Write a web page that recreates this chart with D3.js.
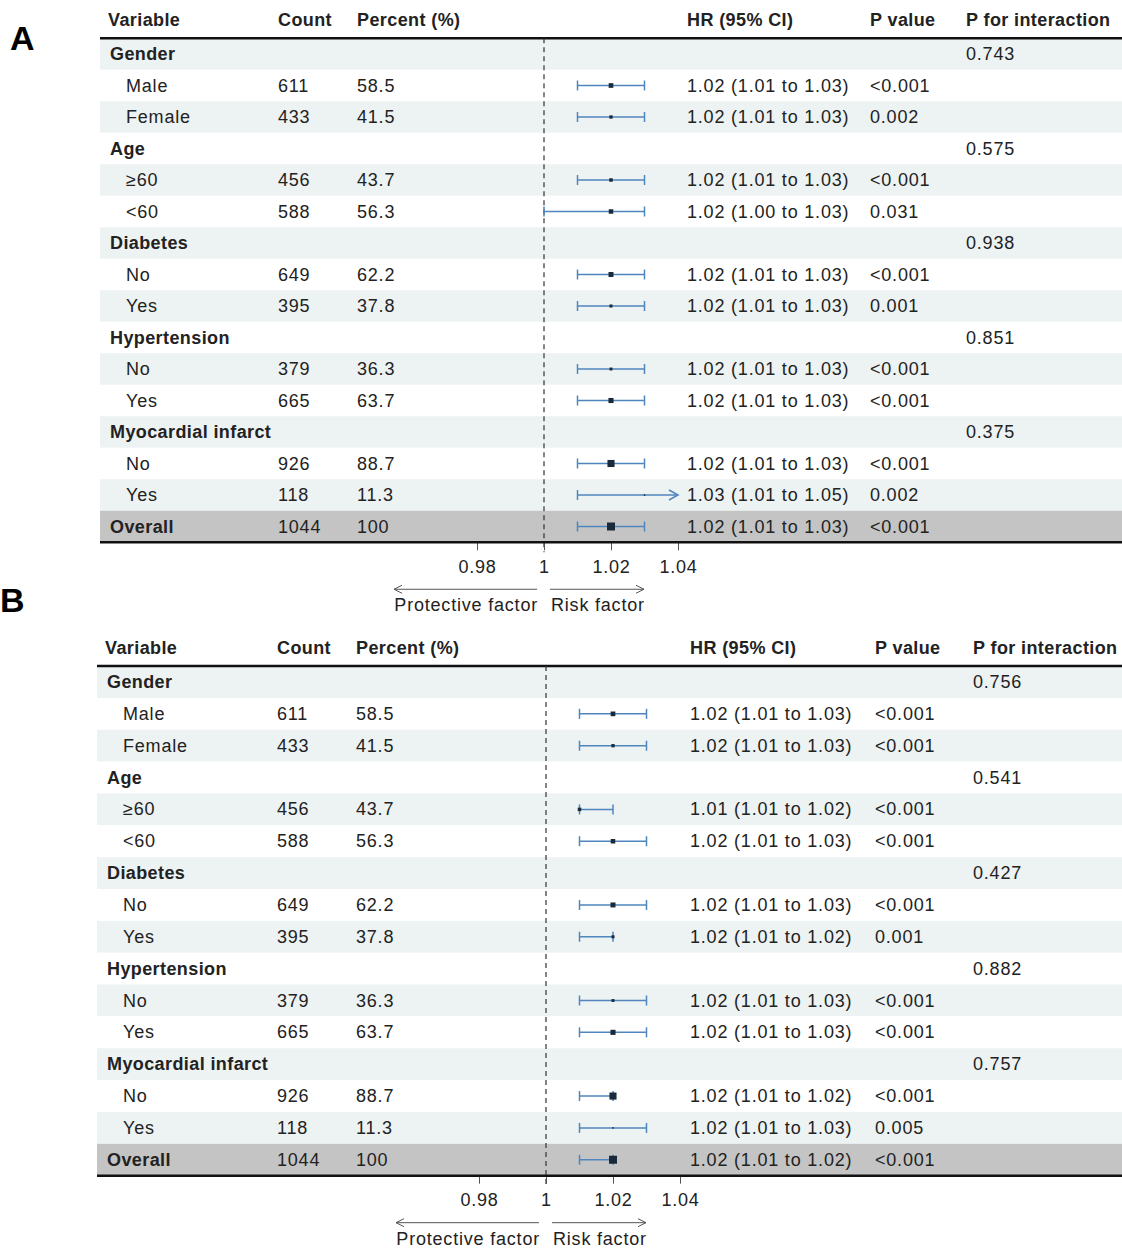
<!DOCTYPE html><html><head><meta charset="utf-8"><script src="https://cdn.jsdelivr.net/npm/d3@7"></script>
<style>body{margin:0;background:#fff}text{font-family:"Liberation Sans",Arial,sans-serif;letter-spacing:0.8px}</style></head><body><svg id="c" width="1122" height="1249"></svg>
<script>
const labels=["Gender","Male","Female","Age","≥60","<60","Diabetes","No","Yes","Hypertension","No","Yes","Myocardial infarct","No","Yes","Overall"];
const isGroup=[1,0,0,1,0,0,1,0,0,1,0,0,1,0,0,2];
const counts=["","611","433","","456","588","","649","395","","379","665","","926","118","1044"];
const percents=["","58.5","41.5","","43.7","56.3","","62.2","37.8","","36.3","63.7","","88.7","11.3","100"];
const aEst=[null,1.02,1.02,null,1.02,1.02,null,1.02,1.02,null,1.02,1.02,null,1.02,1.03,1.02];
const aLo=[null,1.01,1.01,null,1.01,1.00,null,1.01,1.01,null,1.01,1.01,null,1.01,1.01,1.01];
const aHi=[null,1.03,1.03,null,1.03,1.03,null,1.03,1.03,null,1.03,1.03,null,1.03,1.05,1.03];
const aHR=["","1.02 (1.01 to 1.03)","1.02 (1.01 to 1.03)","","1.02 (1.01 to 1.03)","1.02 (1.00 to 1.03)","","1.02 (1.01 to 1.03)","1.02 (1.01 to 1.03)","","1.02 (1.01 to 1.03)","1.02 (1.01 to 1.03)","","1.02 (1.01 to 1.03)","1.03 (1.01 to 1.05)","1.02 (1.01 to 1.03)"];
const aP=["","<0.001","0.002","","<0.001","0.031","","<0.001","0.001","","<0.001","<0.001","","<0.001","0.002","<0.001"];
const aPI=["0.743","","","0.575","","","0.938","","","0.851","","","0.375","","",""];
const bEst=[null,1.02,1.02,null,1.01,1.02,null,1.02,1.02,null,1.02,1.02,null,1.02,1.02,1.02];
const bLo=[null,1.01,1.01,null,1.01,1.01,null,1.01,1.01,null,1.01,1.01,null,1.01,1.01,1.01];
const bHi=[null,1.03,1.03,null,1.02,1.03,null,1.03,1.02,null,1.03,1.03,null,1.02,1.03,1.02];
const bHR=["","1.02 (1.01 to 1.03)","1.02 (1.01 to 1.03)","","1.01 (1.01 to 1.02)","1.02 (1.01 to 1.03)","","1.02 (1.01 to 1.03)","1.02 (1.01 to 1.02)","","1.02 (1.01 to 1.03)","1.02 (1.01 to 1.03)","","1.02 (1.01 to 1.02)","1.02 (1.01 to 1.03)","1.02 (1.01 to 1.02)"];
const bP=["","<0.001","<0.001","","<0.001","<0.001","","<0.001","0.001","","<0.001","<0.001","","<0.001","0.005","<0.001"];
const bPI=["0.756","","","0.541","","","0.427","","","0.882","","","0.757","","",""];
const ticks=[0.98,1,1.02,1.04];
const svg=d3.select("#c");
const blue="#4f86bd";
function panel(o){
  const g=svg.append("g");
  const x=d3.scaleLinear().domain([1,1.02]).range([o.x1,o.x102]);
  const y=i=>o.row0+i*o.step;
  const cols=o.cols;
  labels.forEach((l,i)=>{
    const fill=i===15?"#c4c4c4":(i%2===0?"#edf2f2":"#fff");
    g.append("rect").attr("x",o.left).attr("width",o.right-o.left).attr("y",y(i)-o.step/2).attr("height",o.step).attr("fill",fill);
  });
  const hy=o.row0-o.step*1.07;
  ["Variable","Count","Percent (%)","HR (95% CI)","P value","P for interaction"].forEach((t,k)=>{
    g.append("text").attr("x",cols[k]).attr("y",hy+6).attr("font-size",18).attr("font-weight","bold").attr("fill","#222").style("letter-spacing","0.4px").text(t);
  });
  g.append("line").attr("x1",o.left).attr("x2",o.right).attr("y1",o.row0-o.step/2).attr("y2",o.row0-o.step/2).attr("stroke","#111").attr("stroke-width",2.5);
  const bottom=y(15)+o.step/2;
  g.append("line").attr("x1",x(1)).attr("x2",x(1)).attr("y1",o.row0-o.step/2).attr("y2",bottom+10).attr("stroke","#333").attr("stroke-dasharray","5,4").attr("stroke-width",1.2);
  labels.forEach((l,i)=>{
    const ty=y(i)+6;
    const bold=isGroup[i]>0;
    g.append("text").attr("x",bold?cols[0]+2:cols[0]+18).attr("y",ty).attr("font-size",18).attr("font-weight",bold?"bold":"normal").attr("fill","#222").style("letter-spacing",bold?"0.4px":"0.8px").text(l);
    g.append("text").attr("x",cols[1]).attr("y",ty).attr("font-size",18).attr("fill","#222").text(counts[i]);
    g.append("text").attr("x",cols[2]).attr("y",ty).attr("font-size",18).attr("fill","#222").text(percents[i]);
    g.append("text").attr("x",cols[3]).attr("y",ty).attr("font-size",18).attr("fill","#222").text(o.hr[i]);
    g.append("text").attr("x",cols[4]).attr("y",ty).attr("font-size",18).attr("fill","#222").text(o.p[i]);
    g.append("text").attr("x",cols[5]).attr("y",ty).attr("font-size",18).attr("fill","#222").text(o.pi[i]);
    if(o.est[i]!=null){
      const lo=Math.max(o.lo[i],0.998),hi=Math.min(o.hi[i],1.04);
      const xl=x(lo),xh=x(hi),yy=y(i);
      g.append("line").attr("x1",xl).attr("x2",xh).attr("y1",yy).attr("y2",yy).attr("stroke",blue).attr("stroke-width",1.5);
      if(o.lo[i]>=0.998) g.append("line").attr("x1",xl).attr("x2",xl).attr("y1",yy-5).attr("y2",yy+5).attr("stroke",blue).attr("stroke-width",1.5);
      if(o.hi[i]<=1.04) g.append("line").attr("x1",xh).attr("x2",xh).attr("y1",yy-5).attr("y2",yy+5).attr("stroke",blue).attr("stroke-width",1.5);
      else g.append("path").attr("d",`M${xh-9},${yy-5}L${xh},${yy}L${xh-9},${yy+5}`).attr("fill","none").attr("stroke",blue).attr("stroke-width",1.5);
      const s=Math.max(1.5,(+counts[i])/1044*(o.boxMax));
      g.append("rect").attr("x",x(o.est[i])-s/2).attr("y",yy-s/2).attr("width",s).attr("height",s).attr("fill","#1a2a3a");
    }
  });
  const ax=d3.axisBottom(x).tickValues(ticks).tickFormat(d=>d===1?"1":d3.format(".2f")(d)).tickSize(8).tickPadding(10);
  const ag=g.append("g").attr("transform",`translate(0,${bottom})`).call(ax);
  ag.select(".domain").remove();
  ag.selectAll(".tick line").attr("stroke","#555");
  ag.selectAll("text").attr("font-size",18).attr("fill","#222").attr("font-family","Liberation Sans, Arial");
  g.append("line").attr("x1",o.left).attr("x2",o.right).attr("y1",bottom).attr("y2",bottom).attr("stroke","#111").attr("stroke-width",2.5);
  const arY=bottom+47;
  g.append("line").attr("x1",x(1)-7).attr("x2",x(1)-150).attr("y1",arY).attr("y2",arY).attr("stroke","#555");
  g.append("path").attr("d",`M${x(1)-142},${arY-4}L${x(1)-150},${arY}L${x(1)-142},${arY+4}`).attr("fill","none").attr("stroke","#555");
  g.append("line").attr("x1",x(1)+6).attr("x2",x(1)+100).attr("y1",arY).attr("y2",arY).attr("stroke","#555");
  g.append("path").attr("d",`M${x(1)+92},${arY-4}L${x(1)+100},${arY}L${x(1)+92},${arY+4}`).attr("fill","none").attr("stroke","#555");
  g.append("text").attr("x",x(1)-6).attr("y",arY+22).attr("text-anchor","end").attr("font-size",18).attr("fill","#222").text("Protective factor");
  g.append("text").attr("x",x(1)+7).attr("y",arY+22).attr("font-size",18).attr("fill","#222").text("Risk factor");
  svg.append("text").attr("x",o.lx).attr("y",o.ly).attr("font-size",34).attr("font-weight","bold").attr("font-family","Open Sans, sans-serif").style("letter-spacing","0").text(o.letter);
}
panel({letter:"A",lx:10,ly:50,left:100,right:1122,row0:54,step:31.5,x1:544,x102:611,cols:[108,278,357,687,870,966],hr:aHR,p:aP,pi:aPI,est:aEst,lo:aLo,hi:aHi,boxMax:8});
panel({letter:"B",lx:0,ly:612,left:97,right:1122,row0:682,step:31.85,x1:546,x102:613,cols:[105,277,356,690,875,973],hr:bHR,p:bP,pi:bPI,est:bEst,lo:bLo,hi:bHi,boxMax:8});
</script></body></html>
